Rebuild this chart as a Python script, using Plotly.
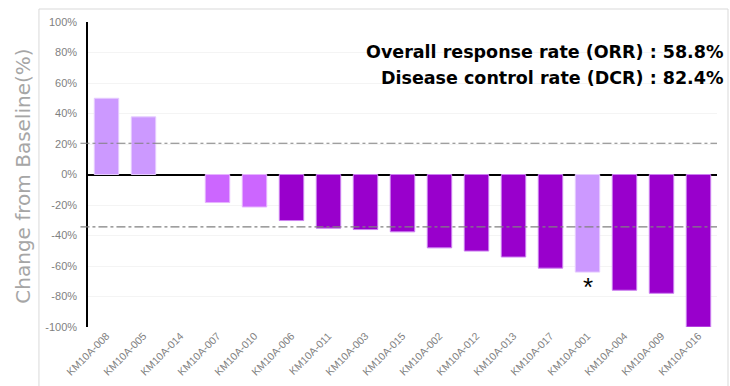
import plotly.graph_objects as go

patients = ["KM10A-008", "KM10A-005", "KM10A-014", "KM10A-007", "KM10A-010",
            "KM10A-006", "KM10A-011", "KM10A-003", "KM10A-015", "KM10A-002",
            "KM10A-012", "KM10A-013", "KM10A-017", "KM10A-001", "KM10A-004",
            "KM10A-009", "KM10A-016"]
change_pct = [50, 37.8, 0, -18.4, -21.3, -30.2, -35.2, -36.1, -37.6, -48.1,
              -50.2, -54.1, -61.4, -64.0, -75.9, -77.9, -100]
group = ["light", "light", "light", "mid", "mid", "dark", "dark", "dark", "dark",
         "dark", "dark", "dark", "dark", "light", "dark", "dark", "dark"]
ref_lines = [20.5, -34.4]
star_patient = "KM10A-001"
orr_text = "Overall response rate (ORR) : 58.8%"
dcr_text = "Disease control rate (DCR) : 82.4%"
y_title = "Change from Baseline(%)"
y_ticks = [-100, -80, -60, -40, -20, 0, 20, 40, 60, 80, 100]
y_tick_labels = [f"{v}%" for v in y_ticks]

fill = {"light": "#CC99FF", "mid": "#CC66FF", "dark": "#9900CC"}
edge = {"light": "#E6CCFF", "mid": "#E6B3FF", "dark": "#CC80F0"}

fig = go.Figure()
fig.add_trace(go.Bar(
    x=patients, y=change_pct,
    marker=dict(color=[fill[g] for g in group],
                line=dict(color=[edge[g] if v != 0 else "rgba(0,0,0,0)"
                                 for g, v in zip(group, change_pct)], width=1)),
    width=0.66, hoverinfo="x+y",
))

for v in ref_lines:
    fig.add_shape(type="line", xref="paper", x0=-0.012, x1=1, yref="y", y0=v, y1=v,
                  line=dict(color="#808080", width=1.2, dash="dashdot"), layer="above")

# outer frame
fig.add_shape(type="rect", xref="paper", yref="paper", x0=-0.078, x1=1.0175,
              y0=-0.25, y1=1.0426, line=dict(color="#D9D9D9", width=1), layer="below")

fig.add_annotation(x=star_patient, y=-74, text="*", showarrow=False,
                   font=dict(size=26, color="black", family="Liberation Sans, Arial"),
                   yanchor="middle")
fig.add_annotation(xref="paper", yref="paper", x=1.013, y=0.9, text="<b>" + orr_text + "</b>",
                   showarrow=False, xanchor="right", yanchor="middle",
                   font=dict(size=17.5, color="black", family="DejaVu Sans"))
fig.add_annotation(xref="paper", yref="paper", x=1.013, y=0.818, text="<b>" + dcr_text + "</b>",
                   showarrow=False, xanchor="right", yanchor="middle",
                   font=dict(size=17.5, color="black", family="DejaVu Sans"))
fig.add_annotation(xref="paper", yref="paper", x=-0.1033, y=0.493, text=y_title,
                   textangle=-90, showarrow=False, xanchor="center", yanchor="middle",
                   font=dict(size=20, color="#A6A6A6", family="DejaVu Sans"))

fig.update_layout(
    width=730, height=386,
    margin=dict(l=88, r=13, t=22, b=59, autoexpand=False),
    paper_bgcolor="white", plot_bgcolor="white",
    showlegend=False,
    font=dict(family="Liberation Sans, Arial", color="#7F7F7F"),
)
fig.update_xaxes(
    type="category", range=[-0.5, 16.5], tickangle=-45, automargin=False,
    tickfont=dict(size=10.5, color="#7F7F7F"), showgrid=False, showline=False,
    zeroline=False, ticks="",
)
fig.update_yaxes(
    range=[-100, 100], tickmode="array", tickvals=y_ticks, ticktext=y_tick_labels,
    automargin=False,
    tickfont=dict(size=11, color="#7F7F7F"), ticklabelstandoff=7,
    showgrid=True, gridcolor="#F4F4F4", gridwidth=1,
    zeroline=True, zerolinecolor="black", zerolinewidth=1.5,
    showline=True, linecolor="black", linewidth=1.5, ticks="",
)

fig.write_html("out.html", config={"displayModeBar": False},
               post_script="document.body.style.margin='0';document.body.style.overflow='hidden';")
